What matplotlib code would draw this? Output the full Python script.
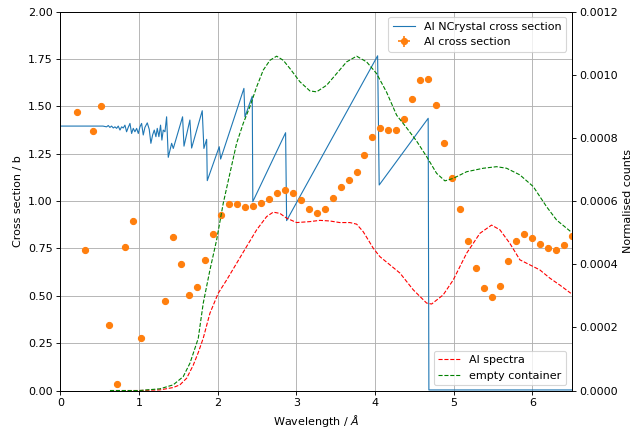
import matplotlib
matplotlib.use("Agg")
import matplotlib.pyplot as plt

# NCrystal 计算截面 (Å, b)
nc_wl = [0.0, 0.54, 0.587, 0.608, 0.629, 0.650, 0.672, 0.693, 0.714, 0.735, 0.757,
         0.778, 0.799, 0.820, 0.841, 0.862, 0.884, 0.905, 0.926, 0.947, 0.969, 0.990,
         1.011, 1.032, 1.053, 1.074, 1.104, 1.129, 1.150, 1.172, 1.193, 1.214, 1.231,
         1.252, 1.273, 1.290, 1.307, 1.329, 1.350, 1.371, 1.414, 1.435, 1.553, 1.571,
         1.646, 1.668, 1.803, 1.824, 1.859, 1.867, 2.019, 2.037, 2.333, 2.346, 2.439,
         2.446, 2.863, 2.876, 4.033, 4.053, 4.676, 4.685, 6.5]
nc_xs = [1.396, 1.396, 1.392, 1.399, 1.389, 1.396, 1.386, 1.392, 1.384, 1.396, 1.375,
         1.392, 1.386, 1.401, 1.366, 1.389, 1.410, 1.357, 1.384, 1.366, 1.384, 1.357,
         1.392, 1.410, 1.349, 1.389, 1.413, 1.379, 1.305, 1.349, 1.375, 1.340, 1.384,
         1.340, 1.401, 1.322, 1.375, 1.366, 1.445, 1.231, 1.305, 1.278, 1.445, 1.290,
         1.428, 1.280, 1.477, 1.278, 1.326, 1.108, 1.287, 1.222, 1.595, 1.445, 1.554,
         0.997, 1.361, 0.897, 1.767, 1.085, 1.437, 0.003, 0.003]

# 测量截面
exp_wl = [0.214, 0.315, 0.417, 0.519, 0.620, 0.722, 0.824, 0.926, 1.024, 1.329,
          1.430, 1.532, 1.634, 1.736, 1.837, 1.939, 2.040, 2.142, 2.244, 2.346,
          2.448, 2.550, 2.651, 2.753, 2.855, 2.952, 3.054, 3.156, 3.257, 3.359,
          3.461, 3.563, 3.664, 3.766, 3.863, 3.965, 4.066, 4.168, 4.270, 4.371,
          4.473, 4.575, 4.676, 4.778, 4.880, 4.978, 5.080, 5.181, 5.283, 5.381,
          5.483, 5.584, 5.686, 5.788, 5.889, 5.991, 6.093, 6.194, 6.296, 6.398, 6.500]
exp_xs = [1.471, 0.740, 1.370, 1.502, 0.348, 0.032, 0.756, 0.897, 0.276, 0.473,
          0.811, 0.667, 0.506, 0.549, 0.688, 0.825, 0.928, 0.985, 0.983, 0.969,
          0.974, 0.990, 1.009, 1.044, 1.060, 1.044, 1.004, 0.958, 0.935, 0.957,
          1.016, 1.076, 1.110, 1.155, 1.241, 1.338, 1.386, 1.373, 1.373, 1.433,
          1.540, 1.640, 1.646, 1.508, 1.306, 1.123, 0.957, 0.788, 0.646, 0.540,
          0.496, 0.554, 0.682, 0.790, 0.826, 0.807, 0.775, 0.751, 0.742, 0.767, 0.817]

# 能谱 (归一化计数)
al_wl = [0.63, 1.0, 1.265, 1.434, 1.519, 1.605, 1.688, 1.752, 1.816, 1.901, 2.006,
         2.113, 2.240, 2.367, 2.495, 2.622, 2.706, 2.791, 2.876, 3.003, 3.172,
         3.299, 3.426, 3.553, 3.681, 3.766, 3.850, 3.914, 3.977, 4.062, 4.190,
         4.317, 4.486, 4.656, 4.720, 4.867, 4.994, 5.165, 5.334, 5.482, 5.588,
         5.715, 5.842, 5.969, 6.096, 6.223, 6.350, 6.49]
al_counts = [0.0, 0.0, 0.000002, 0.0000095, 0.000018, 0.000039, 0.000080, 0.000120,
             0.000166, 0.000245, 0.000308, 0.000350, 0.000403, 0.000456, 0.000509,
             0.000551, 0.000565, 0.000561, 0.000546, 0.000532, 0.000535, 0.000539,
             0.000537, 0.000532, 0.000532, 0.000527, 0.000503, 0.000477, 0.000451,
             0.000424, 0.000398, 0.000372, 0.000319, 0.000277, 0.000274, 0.000303,
             0.000350, 0.000435, 0.000498, 0.000524, 0.000509, 0.000466, 0.000414,
             0.000398, 0.000382, 0.000356, 0.000334, 0.000308]

empty_wl = [0.63, 1.0, 1.265, 1.434, 1.561, 1.647, 1.752, 1.816, 1.901, 1.986, 2.070,
            2.155, 2.240, 2.324, 2.409, 2.495, 2.579, 2.664, 2.749, 2.833, 2.918,
            3.045, 3.172, 3.257, 3.385, 3.512, 3.639, 3.766, 3.893, 4.020, 4.147,
            4.275, 4.402, 4.529, 4.656, 4.783, 4.889, 4.994, 5.165, 5.376, 5.546,
            5.673, 5.842, 6.012, 6.182, 6.309, 6.49]
empty_counts = [0.0, 0.0, 0.0000054, 0.000018, 0.000044, 0.0000867, 0.000165, 0.000277,
                0.000382, 0.000477, 0.000593, 0.000688, 0.000783, 0.000846, 0.000899,
                0.000962, 0.001015, 0.001046, 0.001059, 0.001046, 0.001020, 0.000978,
                0.000949, 0.000946, 0.000967, 0.001004, 0.001041, 0.001059, 0.001041,
                0.001004, 0.000945, 0.000872, 0.000832, 0.000790, 0.000741, 0.000688,
                0.000664, 0.000672, 0.000693, 0.000704, 0.000709, 0.000704, 0.000683,
                0.000646, 0.000582, 0.000540, 0.000503]

fig, ax = plt.subplots(figsize=(643 / 80, 432 / 80), dpi=80)
fig.subplots_adjust(left=0.094, right=0.889, top=0.973, bottom=0.096)

ax.plot(nc_wl, nc_xs, color="C0", lw=1, label="Al NCrystal cross section")
ax.errorbar(exp_wl, exp_xs, xerr=0.02, yerr=0.015, fmt="o", color="C1",
            markersize=5.5, label="Al cross section")
ax.set_xlim(0, 6.5)
ax.set_ylim(0, 2.0)
ax.set_xlabel(r"Wavelength / $\AA$")
ax.set_ylabel("Cross section / b")
ax.grid(True)
ax.legend(loc="upper right")

# 第二个Y轴
ax2 = ax.twinx()
ax2.plot(al_wl, al_counts, "r--", lw=1, label="Al spectra")
ax2.plot(empty_wl, empty_counts, "g--", lw=1, label="empty container")
ax2.set_ylim(0, 0.0012)
ax2.set_ylabel("Normalised counts")
ax2.legend(loc="lower right")

plt.savefig("out.png", dpi=80)
